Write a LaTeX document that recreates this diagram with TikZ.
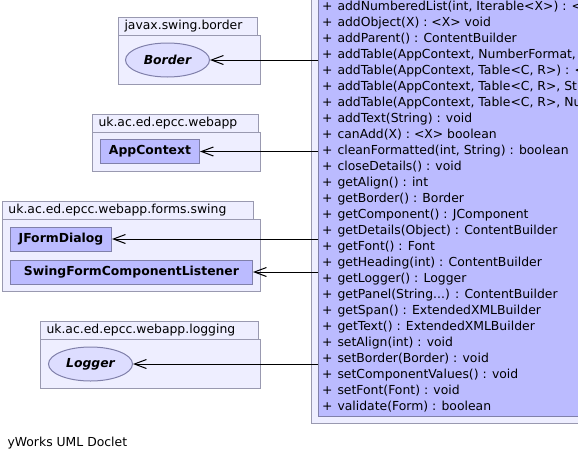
\documentclass[tikz,border=0pt]{standalone}
\usepackage{fontspec}
\setmainfont{DejaVu Sans}
\usetikzlibrary{shapes.geometric,arrows.meta}
\definecolor{pkgfill}{RGB}{238,238,255}
\definecolor{pkgline}{RGB}{153,153,176}
\definecolor{clsfill}{RGB}{187,187,255}
\definecolor{clsline}{RGB}{128,128,170}
\definecolor{ifcfill}{RGB}{221,221,255}
\newcommand{\vararg}{...}
\newcommand{\umlfont}{\fontsize{12.4pt}{14pt}\selectfont}
\tikzset{
	pkg/.style={draw=pkgline,fill=pkgfill},
	pkglabel/.style={anchor=west,inner sep=0pt},
	cls/.style={draw=clsline,fill=clsfill,font=\umlfont\bfseries,anchor=west,inner sep=0pt,minimum height=24pt},
	ifc/.style={ellipse,draw=clsline,fill=ifcfill,font=\umlfont\bfseries\itshape,inner sep=0pt,minimum width=84pt,minimum height=34pt},
	dep/.style={-{Straight Barb[length=12pt,width=9pt]},black},
	meth/.style={anchor=base west,inner sep=0pt}
}
\begin{document}
\begin{tikzpicture}[x=1pt,y=-1pt,line width=1pt,font=\umlfont]
		\useasboundingbox (0,0) rectangle (578,461);
		\clip (0,0) rectangle (578,461);
		% the class and its package
		\draw[pkg] (311,-10) rectangle (600,423);
		\node[draw=clsline,fill=clsfill,anchor=north west,minimum width=300pt,minimum height=426pt,inner sep=0pt] (cb) at (318,-10) {};
		\foreach \m [count=\i] in {{addNumberedList(int, Iterable<X>) : <},{addObject(X) : <X> void},{addParent() : ContentBuilder},{addTable(AppContext, NumberFormat,},{addTable(AppContext, Table<C, R>) : <},{addTable(AppContext, Table<C, R>, St},{addTable(AppContext, Table<C, R>, Nu},{addText(String) : void},{canAdd(X) : <X> boolean},{cleanFormatted(int, String) : boolean},{closeDetails() : void},{getAlign() : int},{getBorder() : Border},{getComponent() : JComponent},{getDetails(Object) : ContentBuilder},{getFont() : Font},{getHeading(int) : ContentBuilder},{getLogger() : Logger},{getPanel(String\vararg) : ContentBuilder},{getSpan() : ExtendedXMLBuilder},{getText() : ExtendedXMLBuilder},{setAlign(int) : void},{setBorder(Border) : void},{setComponentValues() : void},{setFont(Font) : void},{validate(Form) : boolean}}
		{
			\node[meth] (p\i) at (321.5,{10.4+16*(\i-1)}) {+};
			\node[meth] (m\i) at (337,{10.4+16*(\i-1)}) {\m};
		}
		% javax.swing.border
		\draw[pkg] (118,35) rectangle (260,84);
		\draw[pkg] (118,17) rectangle (257,35);
		\node[pkglabel] (l1) at (124,26) {javax.swing.border};
		\node[ifc] (bd) at (167.5,60) {Border};
		% uk.ac.ed.epcc.webapp
		\draw[pkg] (92,132) rectangle (260,171);
		\draw[pkg] (92,114) rectangle (258,132);
		\node[pkglabel] (l2) at (98,123) {uk.ac.ed.epcc.webapp};
		\node[cls,minimum width=99pt] (ac) at (100,151.5) {AppContext};
		% uk.ac.ed.epcc.webapp.forms.swing
		\draw[pkg] (2,219) rectangle (260,291);
		\draw[pkg] (2,201) rectangle (253,219);
		\node[pkglabel] (l3) at (8,210) {uk.ac.ed.epcc.webapp.forms.swing};
		\node[cls,minimum width=101pt] (jf) at (10,239) {JFormDialog};
		\node[cls,minimum width=242pt] (sf) at (10,272) {SwingFormComponentListener};
		% uk.ac.ed.epcc.webapp.logging
		\draw[pkg] (40,339) rectangle (260,388);
		\draw[pkg] (40,321) rectangle (258,339);
		\node[pkglabel] (l4) at (46,330) {uk.ac.ed.epcc.webapp.logging};
		\node[ifc] (lg) at (90.5,364) {Logger};
		% dependencies
		\draw[dep] (cb.west |- bd) -- (bd);
		\draw[dep] (cb.west |- ac) -- (ac);
		\draw[dep] (cb.west |- jf) -- (jf);
		\draw[dep] (cb.west |- sf) -- (sf);
		\draw[dep] (cb.west |- lg) -- (lg);
		\node[anchor=west,inner sep=0pt] (doclet) at (7,443) {yWorks UML Doclet};
		\end{tikzpicture}
\end{document}
